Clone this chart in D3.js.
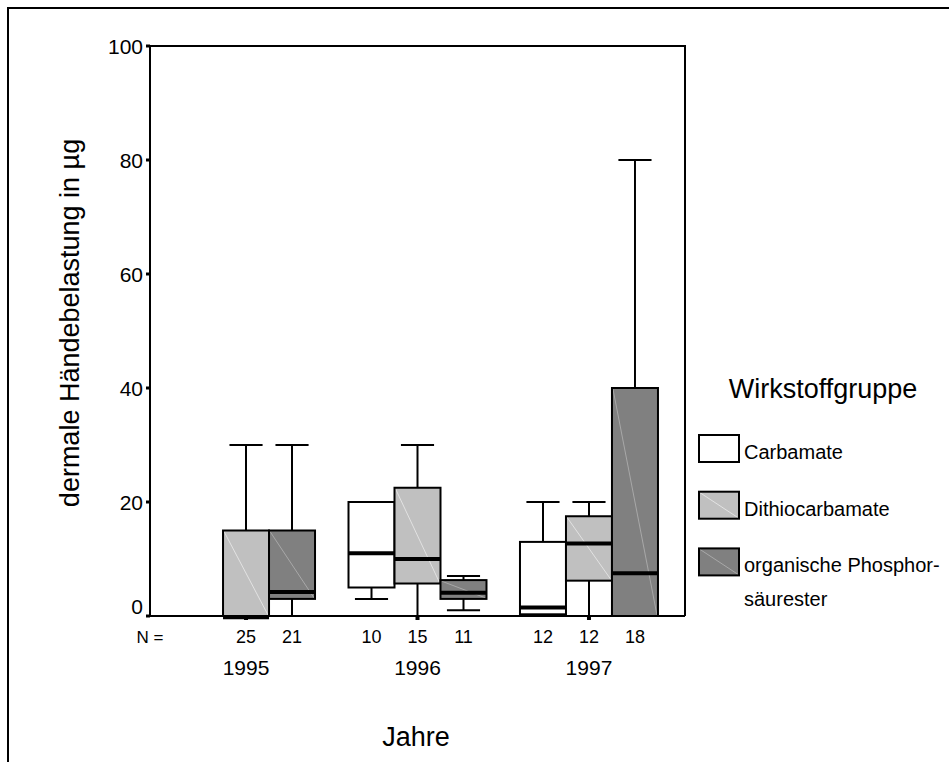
<!DOCTYPE html>
<meta charset="utf-8">
<head>
    <script src="https://d3js.org/d3.v7.min.js"></script>
    <style>
        body { margin: 0; background: #fff; }
        svg { display: block; font-family: "Liberation Sans", Arial, sans-serif; }
    </style>
</head>
<body>
<div id="chart"></div>
<script>
    // categories
    var years = ["1995", "1996", "1997"];
    var groups = ["Carbamate", "Dithiocarbamate", "organische Phosphorsäurester"];
    var yTicks = [0, 20, 40, 60, 80, 100];

    // box values per year: [min, q1, median, q3, max], null = no data
    var carbamate = [null, [3, 5, 11, 20, 20], [0, 0.3, 1.5, 13, 20]];
    var dithiocarbamate = [[0, 0, -0.2, 15, 30], [0, 5.7, 10, 22.5, 30], [0, 6.2, 12.7, 17.5, 20]];
    var phosphor = [[0, 3, 4.2, 15, 30], [1, 3, 4.1, 6.3, 7], [0, 0, 7.5, 40, 80]];

    // N per box
    var nCarbamate = [null, 10, 12];
    var nDithio = [25, 15, 12];
    var nPhosphor = [21, 11, 18];

    var fills = ["#ffffff", "#c0c0c0", "#808080"];
    var diag = ["#ffffff", "#e2e2e2", "#a8a8a8"];

    var series = [carbamate, dithiocarbamate, phosphor];
    var counts = [nCarbamate, nDithio, nPhosphor];

    var boxes = [];
    years.forEach(function (yr, i) {
        groups.forEach(function (g, j) {
            var v = series[j][i];
            if (v) boxes.push({year: yr, group: g, gi: j, min: v[0], q1: v[1], med: v[2], q3: v[3], max: v[4]});
        });
    });

    var W = 949, H = 762;
    var plot = {left: 150, right: 685, top: 46, bottom: 616};

    var svg = d3.select("#chart").append("svg")
        .attr("width", W)
        .attr("height", H);

    svg.append("rect").attr("width", W).attr("height", H).attr("fill", "#fff");

    // outer frame (top + left only visible)
    svg.append("path")
        .attr("d", "M8," + H + "V8H" + W)
        .attr("fill", "none")
        .attr("stroke", "#000")
        .attr("stroke-width", 2);

    var y = d3.scaleLinear().domain([0, 100]).range([plot.bottom, plot.top]);
    var x0 = d3.scaleBand().domain(years).range([plot.left, plot.right]).paddingInner(0).paddingOuter(0.06);
    var x1 = d3.scaleBand().domain(groups).range([0, x0.bandwidth()]).paddingInner(0).paddingOuter(0.364);

    var bw = x1.bandwidth();
    var capW = bw * 0.72;

    // plot frame top/right
    svg.append("path")
        .attr("d", "M" + plot.left + "," + plot.top + "H" + plot.right + "V" + plot.bottom)
        .attr("fill", "none")
        .attr("stroke", "#000")
        .attr("stroke-width", 2);

    var g = svg.append("g");

    var bx = g.selectAll("g.box")
        .data(boxes)
        .enter().append("g")
        .attr("class", "box")
        .attr("transform", function (d) { return "translate(" + (x0(d.year) + x1(d.group)) + ",0)"; });

    // whiskers
    bx.filter(function (d) { return d.max > d.q3; }).append("line")
        .attr("x1", bw / 2).attr("x2", bw / 2)
        .attr("y1", function (d) { return y(d.q3); })
        .attr("y2", function (d) { return y(d.max); })
        .attr("stroke", "#000").attr("stroke-width", 2);
    bx.filter(function (d) { return d.max > d.q3; }).append("line")
        .attr("x1", (bw - capW) / 2).attr("x2", (bw + capW) / 2)
        .attr("y1", function (d) { return y(d.max); })
        .attr("y2", function (d) { return y(d.max); })
        .attr("stroke", "#000").attr("stroke-width", 2);
    bx.filter(function (d) { return d.min < d.q1; }).append("line")
        .attr("x1", bw / 2).attr("x2", bw / 2)
        .attr("y1", function (d) { return y(d.q1); })
        .attr("y2", function (d) { return y(d.min); })
        .attr("stroke", "#000").attr("stroke-width", 2);
    bx.filter(function (d) { return d.min < d.q1; }).append("line")
        .attr("x1", (bw - capW) / 2).attr("x2", (bw + capW) / 2)
        .attr("y1", function (d) { return y(d.min); })
        .attr("y2", function (d) { return y(d.min); })
        .attr("stroke", "#000").attr("stroke-width", 2);

    // boxes
    bx.append("rect")
        .attr("x", 0)
        .attr("width", bw)
        .attr("y", function (d) { return y(d.q3); })
        .attr("height", function (d) { return y(d.q1) - y(d.q3); })
        .attr("fill", function (d) { return fills[d.gi]; });
    bx.append("line")
        .attr("x1", 1).attr("x2", bw - 1)
        .attr("y1", function (d) { return y(d.q3) + 1; })
        .attr("y2", function (d) { return y(d.q1) - 1; })
        .attr("stroke", function (d) { return diag[d.gi]; })
        .attr("stroke-width", 1);
    bx.append("rect")
        .attr("x", 0)
        .attr("width", bw)
        .attr("y", function (d) { return y(d.q3); })
        .attr("height", function (d) { return y(d.q1) - y(d.q3); })
        .attr("fill", "none")
        .attr("stroke", "#000")
        .attr("stroke-width", 2);

    // medians
    bx.append("line")
        .attr("x1", 0).attr("x2", bw)
        .attr("y1", function (d) { return y(d.med); })
        .attr("y2", function (d) { return y(d.med); })
        .attr("stroke", "#000").attr("stroke-width", 4);

    // y axis
    svg.append("line")
        .attr("x1", plot.left).attr("x2", plot.left)
        .attr("y1", plot.top).attr("y2", plot.bottom)
        .attr("stroke", "#000").attr("stroke-width", 2);
    svg.selectAll("line.ytick")
        .data(yTicks)
        .enter().append("line")
        .attr("class", "ytick")
        .attr("x1", plot.left - 4).attr("x2", plot.left)
        .attr("y1", function (d) { return y(d); })
        .attr("y2", function (d) { return y(d); })
        .attr("stroke", "#000").attr("stroke-width", 3);
    svg.selectAll("text.ylab")
        .data(yTicks)
        .enter().append("text")
        .attr("class", "ylab")
        .attr("x", plot.left - 7)
        .attr("y", function (d) { return y(d) - (d === 0 ? 10 : 0); })
        .attr("dy", "0.36em")
        .attr("text-anchor", "end")
        .style("font-size", "21px")
        .text(function (d) { return d; });

    // x axis
    svg.append("line")
        .attr("x1", plot.left - 3).attr("x2", plot.right)
        .attr("y1", plot.bottom).attr("y2", plot.bottom)
        .attr("stroke", "#000").attr("stroke-width", 2);
    svg.selectAll("rect.xtick")
        .data(years)
        .enter().append("rect")
        .attr("class", "xtick")
        .attr("x", function (d) { return x0(d) + x0.bandwidth() / 2 - 2; })
        .attr("y", plot.bottom)
        .attr("width", 4).attr("height", 4)
        .attr("fill", "#000");

    // N row
    svg.append("text")
        .attr("x", plot.left)
        .attr("y", 643)
        .attr("text-anchor", "middle")
        .style("font-size", "17px")
        .text("N =");
    var nLabels = [];
    years.forEach(function (yr, i) {
        groups.forEach(function (gr, j) {
            if (counts[j][i] != null) nLabels.push({year: yr, group: gr, n: counts[j][i]});
        });
    });
    svg.selectAll("text.nlab")
        .data(nLabels)
        .enter().append("text")
        .attr("class", "nlab")
        .attr("x", function (d) { return x0(d.year) + x1(d.group) + bw / 2; })
        .attr("y", 643)
        .attr("text-anchor", "middle")
        .style("font-size", "18px")
        .text(function (d) { return d.n; });

    svg.selectAll("text.year")
        .data(years)
        .enter().append("text")
        .attr("class", "year")
        .attr("x", function (d) { return x0(d) + x0.bandwidth() / 2; })
        .attr("y", 675)
        .attr("text-anchor", "middle")
        .style("font-size", "21px")
        .text(function (d) { return d; });

    // axis titles
    svg.append("text")
        .attr("x", 416)
        .attr("y", 746)
        .attr("text-anchor", "middle")
        .style("font-size", "27px")
        .text("Jahre");
    svg.append("text")
        .attr("transform", "translate(79,323) rotate(-90)")
        .attr("text-anchor", "middle")
        .style("font-size", "27px")
        .text("dermale Händebelastung in µg");

    // legend
    var leg = svg.append("g");
    leg.append("text")
        .attr("x", 823)
        .attr("y", 398)
        .attr("text-anchor", "middle")
        .style("font-size", "27px")
        .text("Wirkstoffgruppe");
    var legLines = [["Carbamate"], ["Dithiocarbamate"], ["organische Phosphor-", "säurester"]];
    var li = leg.selectAll("g.item")
        .data(groups)
        .enter().append("g")
        .attr("class", "item")
        .attr("transform", function (d, i) { return "translate(699," + (435 + i * 56.7) + ")"; });
    li.append("rect")
        .attr("width", 40).attr("height", 27)
        .attr("fill", function (d, i) { return fills[i]; });
    li.append("line")
        .attr("x1", 1).attr("y1", 1).attr("x2", 39).attr("y2", 26)
        .attr("stroke", function (d, i) { return diag[i]; })
        .attr("stroke-width", 1);
    li.append("rect")
        .attr("width", 40).attr("height", 27)
        .attr("fill", "none")
        .attr("stroke", "#000")
        .attr("stroke-width", 2);
    li.each(function (d, i) {
        d3.select(this).selectAll("text")
            .data(legLines[i])
            .enter().append("text")
            .attr("x", 45)
            .attr("y", function (t, k) { return 24 + k * 34; })
            .style("font-size", "20px")
            .text(function (t) { return t; });
    });
</script>
</body>
